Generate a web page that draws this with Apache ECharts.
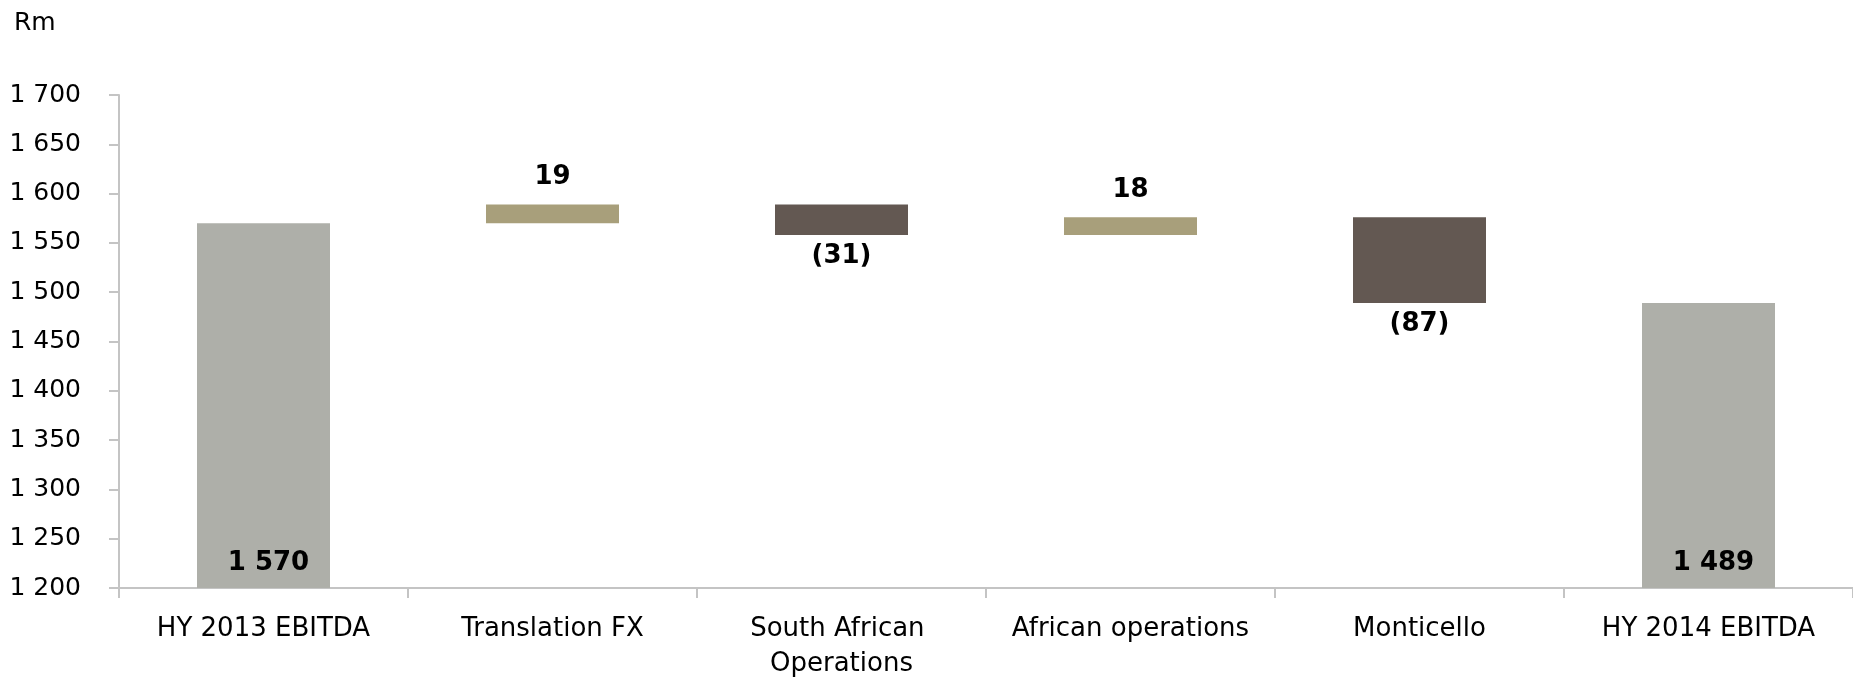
<!DOCTYPE html>
<html>
<head>
<meta charset="utf-8">
<style>
  html, body { margin: 0; padding: 0; background: #ffffff; }
  #chart { width: 1853px; height: 682px; }
</style>
<script src="https://cdn.jsdelivr.net/npm/echarts@6/dist/echarts.min.js"></script>
</head>
<body>
<div id="chart"></div>
<script>
// EBITDA bridge, Rm
const categories = ['HY 2013 EBITDA', 'Translation FX', 'South African Operations', 'African operations', 'Monticello', 'HY 2014 EBITDA'];
const openingTotal = 1570;
const movements = [19, -31, 18, -87];   // Translation FX, SA ops, African ops, Monticello
const closingTotal = 1489;
const yTicks = [1200, 1250, 1300, 1350, 1400, 1450, 1500, 1550, 1600, 1650, 1700];

const COLOR_TOTAL = '#aeafa9';
const COLOR_UP = '#a89f7b';
const COLOR_DOWN = '#635852';
const FONT = '"DejaVu Sans", Verdana, sans-serif';

// Build the stacked waterfall: invisible base + visible movement bars
const baseData = ['-'];
const moveData = ['-'];
let running = openingTotal;
movements.forEach(function (d) {
  const next = running + d;
  baseData.push(Math.min(running, next));
  moveData.push({
    value: Math.abs(d),
    delta: d,
    itemStyle: { color: d >= 0 ? COLOR_UP : COLOR_DOWN },
    label: { position: d >= 0 ? 'top' : 'bottom', distance: d >= 0 ? 14 : 8 }
  });
  running = next;
});
baseData.push('-');
moveData.push('-');
const totalData = [openingTotal].concat(movements.map(function () { return '-'; }), [closingTotal]);

function fmtThousands(v) {
  const s = String(Math.round(Math.abs(v)));
  return s.replace(/\B(?=(\d{3})+(?!\d))/g, ' ');
}

const chart = echarts.init(document.getElementById('chart'), null, { renderer: 'canvas' });
chart.setOption({
  animation: false,
  backgroundColor: '#ffffff',
  title: {
    text: 'Rm',
    left: 9,
    top: 6,
    textStyle: { fontFamily: FONT, fontSize: 25, fontWeight: 'normal', color: '#000000' }
  },
  grid: { left: 119, right: 0, top: 95, bottom: 91, containLabel: false },
  xAxis: {
    type: 'category',
    data: categories,
    axisLine: { show: true, lineStyle: { color: '#c4c4c4', width: 2 } },
    axisTick: { show: true, length: 10, lineStyle: { color: '#c4c4c4', width: 2 } },
    axisLabel: {
      margin: 24,
      interval: 0,
      color: '#000000',
      fontFamily: FONT,
      fontSize: 26,
      lineHeight: 35,
      width: 270,
      overflow: 'break'
    },
    splitLine: { show: false }
  },
  yAxis: {
    type: 'value',
    min: yTicks[0],
    max: yTicks[yTicks.length - 1],
    interval: yTicks[1] - yTicks[0],
    axisLine: { show: true, lineStyle: { color: '#c4c4c4', width: 2 } },
    axisTick: { show: true, length: 10, lineStyle: { color: '#c4c4c4', width: 2 } },
    axisLabel: {
      margin: 38,
      color: '#000000',
      fontFamily: FONT,
      fontSize: 25,
      formatter: fmtThousands
    },
    splitLine: { show: false }
  },
  series: [
    {
      name: 'base',
      type: 'bar',
      stack: 'bridge',
      barWidth: 133,
      silent: true,
      itemStyle: { color: 'transparent' },
      data: baseData
    },
    {
      name: 'movement',
      type: 'bar',
      stack: 'bridge',
      barWidth: 133,
      label: {
        show: true,
        color: '#000000',
        fontFamily: FONT,
        fontSize: 26,
        fontWeight: 'bold',
        formatter: function (p) {
          const d = p.data.delta;
          return d < 0 ? '(' + fmtThousands(d) + ')' : fmtThousands(d);
        }
      },
      data: moveData
    },
    {
      name: 'total',
      type: 'bar',
      stack: 'bridge',
      barWidth: 133,
      itemStyle: { color: COLOR_TOTAL },
      label: {
        show: true,
        position: 'insideBottom',
        distance: 12,
        offset: [5, 0],
        color: '#000000',
        fontFamily: FONT,
        fontSize: 26,
        fontWeight: 'bold',
        formatter: function (p) { return fmtThousands(p.value); }
      },
      data: totalData
    }
  ]
});
</script>
</body>
</html>
